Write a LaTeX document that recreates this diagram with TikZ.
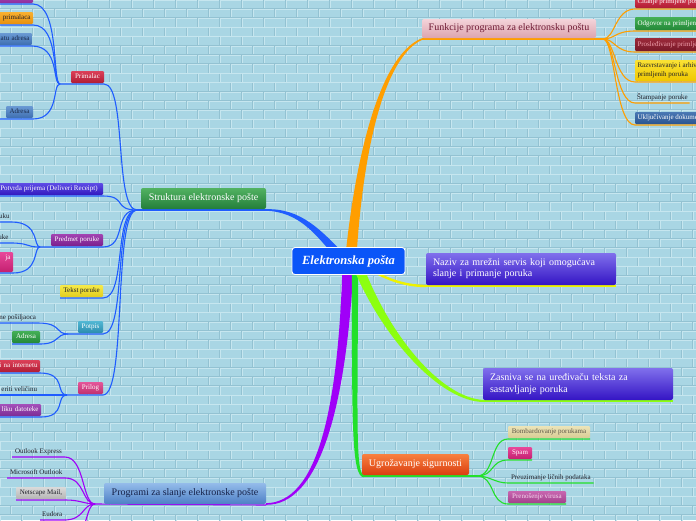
\documentclass[tikz,border=0pt]{standalone}
\usepackage{fontspec}
\setmainfont{Liberation Serif}
\usetikzlibrary{calc}
\pgfdeclarelayer{bricks}
\pgfdeclarelayer{links}
\pgfsetlayers{bricks,links,main}
% background
\definecolor{bgA}{HTML}{A9D6E4}
\definecolor{mortar}{HTML}{C6E6EF}
\definecolor{mortarD}{HTML}{93C2D2}
% small boxes
\definecolor{c1a}{HTML}{B85AC0}\definecolor{c1b}{HTML}{8E2E9C}
\definecolor{orA}{HTML}{F8B030}\definecolor{orB}{HTML}{E8900C}
\definecolor{blA}{HTML}{6A9AD4}\definecolor{blB}{HTML}{3E6EB0}
\definecolor{rdA}{HTML}{DC4058}\definecolor{rdB}{HTML}{B01C34}
\definecolor{vioA}{HTML}{5E4CE6}\definecolor{vioB}{HTML}{3218BE}
\definecolor{puA}{HTML}{A244B2}\definecolor{puB}{HTML}{7A1E8C}
\definecolor{mgA}{HTML}{E8489A}\definecolor{mgB}{HTML}{C42070}
\definecolor{yeA}{HTML}{F6EA4A}\definecolor{yeB}{HTML}{E2CC1E}
\definecolor{tlA}{HTML}{52B8D4}\definecolor{tlB}{HTML}{2A8CAE}
\definecolor{gnA}{HTML}{44B056}\definecolor{gnB}{HTML}{238838}
\definecolor{pkA}{HTML}{E4569A}\definecolor{pkB}{HTML}{C0306E}
\definecolor{ppA}{HTML}{A450BA}\definecolor{ppB}{HTML}{7C2C94}
\definecolor{drA}{HTML}{9C2A3A}\definecolor{drB}{HTML}{781828}
\definecolor{drT}{HTML}{F0A0AC}
\definecolor{yfA}{HTML}{FAE234}\definecolor{yfB}{HTML}{F0C800}
\definecolor{dbA}{HTML}{4A78B4}\definecolor{dbB}{HTML}{2A5490}
\definecolor{beA}{HTML}{ECE4B8}\definecolor{beB}{HTML}{D8CC94}
\definecolor{beT}{HTML}{5C5646}
\definecolor{pvA}{HTML}{C866B0}\definecolor{pvB}{HTML}{A4408C}
\definecolor{pvT}{HTML}{F6D8EE}
\definecolor{gyA}{HTML}{DADADA}\definecolor{gyB}{HTML}{B4B4B4}
\definecolor{navT}{HTML}{1A2A4A}
\definecolor{txt}{HTML}{1E1E28}
% main boxes
\definecolor{funA}{HTML}{F4D4DA}\definecolor{funB}{HTML}{DCA4AE}\definecolor{funT}{HTML}{6E1A34}
\definecolor{strA}{HTML}{52B262}\definecolor{strB}{HTML}{237E3A}
\definecolor{navA}{HTML}{8070EC}\definecolor{navB}{HTML}{3414C4}
\definecolor{ugrA}{HTML}{F8803F}\definecolor{ugrB}{HTML}{DA3E10}
\definecolor{proA}{HTML}{94BCEA}\definecolor{proB}{HTML}{4E80C6}\definecolor{proT}{HTML}{16224A}
\definecolor{cen}{HTML}{0A55F8}
% lines
\definecolor{lnBlue}{HTML}{1F5CFF}
\definecolor{lnOr}{HTML}{FF9E00}
\definecolor{lnYe}{HTML}{EEF200}
\definecolor{lnLime}{HTML}{8CFF10}
\definecolor{lnGr}{HTML}{22E02A}
\definecolor{lnPu}{HTML}{A000F8}

\tikzset{
  box/.style={inner xsep=2.5pt, inner ysep=0pt, outer sep=0pt, outer ysep=1pt,
    rounded corners=1.2pt, font=\fontsize{7}{8}\selectfont, minimum height=12pt,
    text height=5.2pt, text depth=1.6pt, text=white},
  lcut/.style={box, anchor=south east, text width=#1, align=right},
  rbox/.style={box, anchor=south west},
  sh/.style 2 args={top color=#1, bottom color=#2},
  plain/.style={inner xsep=2pt, inner ysep=1.2pt, outer sep=0pt, outer ysep=1pt,
    font=\fontsize{7}{8}\selectfont, text=txt, text height=5.2pt, text depth=1.6pt},
  big/.style={inner xsep=4pt, inner ysep=0pt, outer sep=0pt, outer ysep=1pt,
    rounded corners=2pt, font=\fontsize{10}{12}\selectfont, anchor=south west},
  lb/.style={draw=lnBlue, line width=1.1pt},
  lo/.style={draw=lnOr, line width=1.1pt},
  lg/.style={draw=lnGr, line width=1.1pt},
  lp/.style={draw=lnPu, line width=1.1pt},
}

\begin{document}
\begin{tikzpicture}[x=1pt,y=-1pt]
\path[use as bounding box] (0,0) rectangle (696,520);

% ---------- brick wall ----------
\begin{pgfonlayer}{bricks}
\fill[bgA] (0,0) rectangle (696,520);
\foreach \r in {0,...,57}{
  \pgfmathsetmacro{\brky}{\r*9.2}
  \pgfmathsetmacro{\brkoff}{mod(\r,2)*11}
  \draw[mortarD, line width=0.5pt] (0,\brky-0.8) -- (696,\brky-0.8);
  \draw[mortar, line width=0.9pt] (0,\brky) -- (696,\brky);
  \draw[mortarD, line width=0.5pt] \foreach \c in {-1,...,32}{ ({\c*22+\brkoff-0.8},\brky) -- ++(0,9.2) };
  \draw[mortar, line width=0.9pt] \foreach \c in {-1,...,32}{ ({\c*22+\brkoff},\brky) -- ++(0,9.2) };
}
\end{pgfonlayer}

% ---------- junctions ----------
\coordinate (P) at (60,84);
\coordinate (S) at (137,210);
\coordinate (Q) at (40,247);
\coordinate (R) at (68,334);
\coordinate (T) at (67,395);
\coordinate (U) at (95,504);
\coordinate (F) at (603,39);
\coordinate (V) at (477,476);
\coordinate (X) at (62,548);

% ---------- central ----------
\node[draw=white, line width=0.9pt, fill=cen, rounded corners=3pt, minimum width=113pt,
  minimum height=27pt, inner sep=0pt, text=white,
  font=\fontsize{12.5}{14}\selectfont\bfseries\itshape] (c) at (348.5,261) {Elektronska pošta};

% ---------- main topics ----------
\node[big, minimum width=174pt, minimum height=19pt, sh={funA}{funB}, text=funT] (fun) at (422,39) {Funkcije programa za elektronsku poštu};
\node[big, minimum width=125pt, minimum height=21pt, sh={strA}{strB}, text=white] (str) at (141,210) {Struktura elektronske pošte};
\node[big, text width=176pt, align=left, inner xsep=7pt, minimum height=32pt, sh={navA}{navB}, text=white, font=\fontsize{10}{11}\selectfont] (nav) at (426,286) {Naziv za mrežni servis koji omogućava\\slanje i primanje poruka};
\node[big, text width=176pt, align=left, inner xsep=7pt, minimum height=32pt, sh={navA}{navB}, text=white, font=\fontsize{10}{12.5}\selectfont] (zas) at (483,401) {Zasniva se na uređivaču teksta za\\sastavljanje poruka};
\node[big, minimum width=107pt, minimum height=21pt, sh={ugrA}{ugrB}, text=white] (ugr) at (362,476) {Ugrožavanje sigurnosti};
\node[big, minimum width=162pt, minimum height=21pt, sh={proA}{proB}, text=proT] (pro) at (104,505) {Programi za slanje elektronske pošte};

% ---------- Struktura subtree ----------
\node[box, anchor=south east, minimum width=45pt, minimum height=14pt, sh={c1a}{c1b}] (prim1) at (33,4) {};
\node[lcut=50pt, sh={orA}{orB}, text=txt] (prim2) at (33,25) {primalaca};
\node[lcut=50pt, sh={blA}{blB}, text=navT] (prim3) at (32,46) {atu adresa};
\node[rbox, minimum width=27pt, sh={blA}{blB}, text=navT] (adr1) at (6,119) {Adresa};
\node[rbox, minimum width=33pt, sh={rdA}{rdB}] (primalac) at (71,84) {Primalac};
\node[box, anchor=south east, minimum width=108pt, sh={vioA}{vioB}] (potvrda) at (103,196) {Potvrda prijema (Deliveri Receipt)};
\node[rbox, minimum width=52pt, sh={puA}{puB}] (predmet) at (51,247) {Predmet poruke};
\node[plain, anchor=south east] (uku) at (11.5,222) {uku};
\node[plain, anchor=south east] (uke) at (10.5,243) {uke};
\node[lcut=20pt, minimum height=20pt, text depth=11pt, sh={mgA}{mgB}] (ja) at (13,273) {ja};
\node[rbox, minimum width=43pt, sh={yeA}{yeB}, text=txt] (tekst) at (60,298) {Tekst poruke};
\node[rbox, minimum width=25pt, sh={tlA}{tlB}] (potpis) at (78,334) {Potpis};
\node[plain, anchor=south east] (ime) at (38,323) {ne pošiljaoca};
\node[rbox, minimum width=28pt, sh={gnA}{gnB}] (adr2) at (12,344) {Adresa};
\node[rbox, minimum width=25pt, sh={pkA}{pkB}] (prilog) at (78,395) {Prilog};
\node[lcut=60pt, sh={rdA}{rdB}] (inet) at (40,373) {i na internetu};
\node[plain, anchor=south east] (eriti) at (39,395) {eriti veličinu};
\node[lcut=60pt, sh={ppA}{ppB}] (datot) at (41,417) {liku datoteke};

% ---------- Funkcije subtree ----------
\node[rbox, minimum height=13pt, sh={rdA}{rdB}] (cit) at (635,9) {Čitanje primljene pošte};
\node[rbox, minimum height=13pt, sh={gnA}{gnB}] (odg) at (635,31) {Odgovor na primljenu poruku};
\node[rbox, minimum height=13pt, sh={drA}{drB}, text=drT] (prs) at (635,52) {Prosleđivanje primljene poruke};
\node[inner xsep=2.5pt, inner ysep=1pt, outer sep=0pt, outer ysep=1pt, rounded corners=1.2pt,
  anchor=south west, align=left, font=\fontsize{7}{8.5}\selectfont, minimum height=21pt,
  sh={yfA}{yfB}, text=txt] (raz) at (635,82) {Razvrstavanje i arhiviranje\\primljenih poruka};
\node[plain, anchor=south west] (stm) at (635,103) {Štampanje poruke};
\node[rbox, sh={dbA}{dbB}] (ukl) at (635,125) {Uključivanje dokumenata};

% ---------- Ugrozavanje subtree ----------
\node[rbox, minimum width=82pt, sh={beA}{beB}, text=beT] (bom) at (508,439) {Bombardovanje porukama};
\node[rbox, minimum width=24pt, sh={mgA}{mgB}] (spam) at (508,460) {Spam};
\node[plain, anchor=south west, inner xsep=3pt] (preu) at (508,483) {Preuzimanje ličnih podataka};
\node[rbox, minimum width=58pt, sh={pvA}{pvB}, text=pvT] (pren) at (508,504) {Prenošenje virusa};

% ---------- Programi subtree ----------
\node[plain, anchor=south west, inner xsep=3pt] (oe) at (12,457) {Outlook Express};
\node[plain, anchor=south west, inner xsep=3pt] (mo) at (7,478) {Microsoft Outlook};
\node[rbox, minimum width=50pt, sh={gyA}{gyB}, text=txt] (ns) at (16,500) {Netscape Mail,};
\node[plain, anchor=south west, inner xsep=2pt] (eu) at (40,520) {Eudora};

% ---------- connectors ----------
\begin{pgfonlayer}{links}
% thick tapered main branches
\fill[lnBlue] (str.south east) ++(0,-0.8) .. controls (300.8,208.2) and (320.3,229.7) .. (343.3,253)
  -- (336.7,259) .. controls (315.7,234.3) and (299.2,211.8) .. (266,210.8) -- cycle;
\fill[lnOr] (356.5,256.4) .. controls (361.8,170.3) and (379.4,59.4) .. (422.3,39.7)
  -- (421.7,38.3) .. controls (376.6,56.6) and (354.2,169.7) .. (345.5,255.6) -- cycle;
\fill[lnPu] (353.5,266.2) .. controls (345.9,410.8) and (318.5,505.5) .. (266,504.8)
  -- (266,503.2) .. controls (317.5,502.5) and (338.1,409.2) .. (342.5,265.8) -- cycle;
\fill[lnGr] (358.2,268) .. controls (357.5,420) and (355.5,474.5) .. (364,474.8)
  -- (364,477.2) .. controls (351,477.5) and (352.2,420) .. (351.8,268) -- cycle;
\fill[lnLime] (362.7,264.2) .. controls (387.8,332.6) and (440,398) .. (484,400)
  -- (484,402) .. controls (440,402) and (382.2,337.4) .. (353.3,267.8) -- cycle;
\draw[lnYe, line width=2.4pt] ($(c.center)+(24.5,10)$) .. controls (392,282) and (410,286) .. (nav.south west);
\draw[lnYe, line width=1.3pt] (nav.south west) -- (nav.south east);
\draw[lnLime, line width=1.2pt] (zas.south west) -- (zas.south east);

% Struktura
\draw[lb] (S) -- (str.south east);
\draw[lb] (prim1.south west) -- (prim1.south east) .. controls (60,4) and (52,84) .. (P);
\draw[lb] (prim2.south west) -- (prim2.south east) .. controls (60,25) and (52,84) .. (P);
\draw[lb] (prim3.south west) -- (prim3.south east) .. controls (60,46) and (52,84) .. (P);
\draw[lb] ([xshift=-7pt]adr1.south west) -- (adr1.south east) .. controls (60,119) and (52,84) .. (P);
\draw[lb] (P) -- (primalac.south east) .. controls (127,84) and (114,210) .. (S);
\draw[lb] (potvrda.south west) -- (potvrda.south east) .. controls (127,196) and (113,210) .. (S);
\draw[lb] (Q) -- (predmet.south east) .. controls (127,247) and (113,210) .. (S);
\draw[lb] (tekst.south west) -- (tekst.south east) .. controls (127,298) and (113,210) .. (S);
\draw[lb] (R) -- (potpis.south east) .. controls (127,334) and (113,210) .. (S);
\draw[lb] (T) -- (prilog.south east) .. controls (127,395) and (113,210) .. (S);
\draw[lb] ([xshift=-8pt]uku.south west) -- (uku.south east) .. controls (40,222) and (33,247) .. (Q);
\draw[lb] ([xshift=-8pt]uke.south west) -- (uke.south east) .. controls (30,243) and (25,247) .. (Q);
\draw[lb] (ja.south west) -- (ja.south east) .. controls (40,273) and (33,247) .. (Q);
\draw[lb] (ime.south west) -- (ime.south east) .. controls (62,323) and (55,334) .. (R);
\draw[lb] (adr2.south west) -- (adr2.south east) .. controls (60,344) and (55,334) .. (R);
\draw[lb] (inet.south west) -- (inet.south east) .. controls (67,373) and (55,395) .. (T);
\draw[lb] (eriti.south west) -- (T);
\draw[lb] (datot.south west) -- (datot.south east) .. controls (67,417) and (55,395) .. (T);

% Funkcije
\draw[lo] (fun.south west) -- (F);
\draw[lo] (F) .. controls (615,39) and (615,9) .. (cit.south west) -- (cit.south east);
\draw[lo] (F) .. controls (615,39) and (615,31) .. (odg.south west) -- (odg.south east);
\draw[lo] (F) .. controls (615,39) and (615,52) .. (prs.south west) -- (prs.south east);
\draw[lo] (F) .. controls (615,39) and (615,82) .. (raz.south west) -- (raz.south east);
\draw[lo] (F) .. controls (615,39) and (615,103) .. (stm.south west) -- (stm.south east);
\draw[lo] (F) .. controls (615,39) and (615,125) .. (ukl.south west) -- (ukl.south east);

% Ugrozavanje
\draw[lg] (ugr.south west) -- (V);
\draw[lg] (V) .. controls (495,476) and (490,439) .. (bom.south west) -- (bom.south east);
\draw[lg] (V) .. controls (495,476) and (490,460) .. (spam.south west) -- (spam.south east);
\draw[lg] (V) .. controls (490,476) and (495,483) .. (preu.south west) -- (preu.south east);
\draw[lg] (V) .. controls (495,476) and (490,504) .. (pren.south west) -- (pren.south east);

% Programi
\draw[lp] (U) -- (pro.south east);
\draw[lp] (oe.south west) -- (oe.south east) .. controls (85,457) and (82,504) .. (U);
\draw[lp] (mo.south west) -- (mo.south east) .. controls (85,478) and (82,504) .. (U);
\draw[lp] (ns.south west) -- (ns.south east) .. controls (80,500) and (85,504) .. (U);
\draw[lp] (eu.south west) -- (eu.south east) .. controls (85,520) and (82,504) .. (U);
\draw[lp] (X) .. controls (88,548) and (84,504) .. (U);
\end{pgfonlayer}
\end{tikzpicture}
\end{document}
